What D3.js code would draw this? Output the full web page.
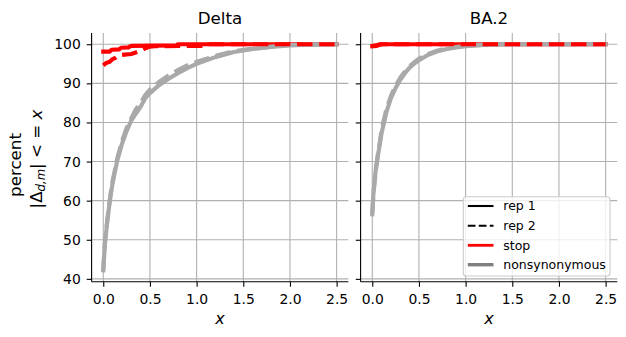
<!DOCTYPE html>
<html>
<head>
<meta charset="utf-8">
<script src="https://cdn.jsdelivr.net/npm/d3@7"></script>
<style>
  body { margin: 0; background: #fff; }
  svg { display: block; }
  text { font-family: "DejaVu Sans", sans-serif; }
</style>
</head>
<body>
<svg id="chart" width="626" height="337"></svg>
<script>
// ---------------- data ----------------
const panelTitles = ["Delta", "BA.2"];
const xTicks = [0, 0.5, 1.0, 1.5, 2.0, 2.5];
const yTicks = [40, 50, 60, 70, 80, 90, 100];

// nonsynonymous mutations: shared x grid
const nsX = [0, 0.01, 0.02, 0.04, 0.06, 0.08, 0.1, 0.15, 0.2, 0.25, 0.3, 0.35, 0.4, 0.45, 0.5, 0.6, 0.7, 0.8, 0.9, 1.0, 1.2, 1.4, 1.6, 1.8, 2.0, 2.2, 2.5];
const deltaNonsynRep1 = [42.2, 46, 49.5, 54, 58, 61.5, 64.5, 70.3, 74.5, 77.8, 80.5, 82.3, 84.0, 86.2, 87.5, 89.6, 91.2, 92.6, 93.9, 95.0, 96.7, 98.0, 98.8, 99.3, 99.7, 99.9, 100];
const deltaNonsynRep2 = [42.0, 46.5, 50, 54.5, 58.5, 62, 65, 70.8, 75.2, 78.6, 81.0, 83.4, 85.0, 87.0, 88.4, 90.4, 92.0, 93.4, 94.6, 95.5, 97.0, 98.2, 98.9, 99.4, 99.8, 99.9, 100];
const ba2NonsynRep1 = [56.5, 61, 64, 68.5, 71.5, 74.3, 77.3, 82.5, 86.2, 88.8, 90.9, 92.6, 94.0, 95.1, 95.9, 97.3, 98.2, 98.8, 99.2, 99.5, 99.8, 100, 100, 100, 100, 100, 100];
const ba2NonsynRep2 = [56.8, 60.5, 63.5, 68, 71.8, 74.8, 78.2, 83.3, 86.8, 89.4, 91.4, 93.0, 94.4, 95.4, 96.3, 97.5, 98.4, 98.9, 99.3, 99.6, 99.9, 99.95, 100, 100, 100, 100, 100];

// stop mutations
const deltaStopRep1X = [0, 0.07, 0.09, 0.17, 0.19, 0.27, 0.3, 0.78, 0.8, 1.0, 1.5, 2.0, 2.5];
const deltaStopRep1 = [98.1, 98.1, 98.6, 98.7, 99.1, 99.2, 99.6, 99.7, 100, 100, 100, 100, 100];
const deltaStopRep2X = [0, 0.03, 0.07, 0.1, 0.13, 0.17, 0.3, 0.34, 0.4, 0.45, 0.5, 0.55, 1.05, 1.1, 1.5, 2.0, 2.5];
const deltaStopRep2 = [94.6, 95.2, 95.5, 96.2, 96.5, 97.2, 97.5, 97.8, 98.3, 99.0, 99.4, 99.5, 99.6, 100, 100, 100, 100];
const ba2StopRep1X = [0, 0.05, 0.08, 0.1, 0.5, 1.0, 1.5, 2.0, 2.5];
const ba2StopRep1 = [99.5, 99.6, 99.9, 100, 100, 100, 100, 100, 100];
const ba2StopRep2X = [0, 0.04, 0.07, 0.1, 0.5, 1.0, 1.5, 2.0, 2.5];
const ba2StopRep2 = [99.6, 99.7, 99.9, 100, 100, 100, 100, 100, 100];

const legendLabels = ["rep 1", "rep 2", "stop", "nonsynonymous"];

// ---------------- layout ----------------
const svg = d3.select("#chart");
const plotTop = 32.9, plotBottom = 281.8;
const panelRanges = [[91.6, 348.3], [360.6, 617.3]];
const y = d3.scaleLinear().domain([39.25, 102.9]).range([plotBottom, plotTop]);

const RED = "#ff0000", GRAY = "#a9a9a9";
const LW = 4.17;
const DASH = `${(3.7 * LW).toFixed(2)},${(1.6 * LW).toFixed(2)}`;

const panelSeries = [
  [
    { x: deltaStopRep1X, y: deltaStopRep1, color: RED, dash: null },
    { x: nsX, y: deltaNonsynRep1, color: GRAY, dash: null },
    { x: nsX, y: deltaNonsynRep2, color: GRAY, dash: DASH },
    { x: deltaStopRep2X, y: deltaStopRep2, color: RED, dash: DASH }
  ],
  [
    { x: ba2StopRep1X, y: ba2StopRep1, color: RED, dash: null },
    { x: nsX, y: ba2NonsynRep1, color: GRAY, dash: null },
    { x: nsX, y: ba2NonsynRep2, color: GRAY, dash: DASH },
    { x: ba2StopRep2X, y: ba2StopRep2, color: RED, dash: DASH }
  ]
];

panelTitles.forEach((title, i) => {
  const [x0, x1] = panelRanges[i];
  const x = d3.scaleLinear().domain([-0.125, 2.625]).range([x0, x1]);
  const g = svg.append("g");

  // grid
  g.append("g").selectAll("line").data(xTicks).join("line")
    .attr("x1", d => x(d)).attr("x2", d => x(d))
    .attr("y1", plotTop).attr("y2", plotBottom)
    .attr("stroke", "#b0b0b0").attr("stroke-width", 1.1);
  g.append("g").selectAll("line").data(yTicks).join("line")
    .attr("x1", x0).attr("x2", x1)
    .attr("y1", d => y(d)).attr("y2", d => y(d))
    .attr("stroke", "#b0b0b0").attr("stroke-width", 1.1);

  // lines
  const clipId = "clip" + i;
  svg.append("clipPath").attr("id", clipId).append("rect")
    .attr("x", x0).attr("y", plotTop).attr("width", x1 - x0).attr("height", plotBottom - plotTop);
  const lg = g.append("g").attr("clip-path", `url(#${clipId})`);
  panelSeries[i].forEach(s => {
    const pts = s.x.map((xv, k) => [xv, s.y[k]]);
    const line = d3.line().x(d => x(d[0])).y(d => y(d[1]));
    lg.append("path")
      .attr("d", line(pts))
      .attr("fill", "none")
      .attr("stroke", s.color)
      .attr("stroke-width", LW)
      .attr("stroke-linejoin", "round")
      .attr("stroke-linecap", s.dash ? "butt" : "square")
      .attr("stroke-dasharray", s.dash);
  });

  // axes
  const xAxis = d3.axisBottom(x).tickValues(xTicks).tickFormat(d3.format(".1f"))
    .tickSizeInner(4.86).tickSizeOuter(0).tickPadding(7);
  const xa = g.append("g").attr("transform", `translate(0,${plotBottom})`).call(xAxis);
  xa.select(".domain").attr("stroke", "#000").attr("stroke-width", 1.1)
    .attr("d", `M${x0},0H${x1}`);
  xa.selectAll(".tick line").attr("stroke", "#000").attr("stroke-width", 1.1);
  xa.selectAll(".tick text").attr("font-size", "13.9px").attr("font-family", "DejaVu Sans").attr("fill", "#000");

  const yAxis = d3.axisLeft(y).tickValues(yTicks).tickFormat(i === 0 ? d3.format("d") : () => "")
    .tickSizeInner(4.86).tickSizeOuter(0).tickPadding(6);
  const ya = g.append("g").attr("transform", `translate(${x0},0)`).call(yAxis);
  ya.select(".domain").attr("stroke", "#000").attr("stroke-width", 1.1)
    .attr("d", `M0,${plotTop}V${plotBottom}`);
  ya.selectAll(".tick line").attr("stroke", "#000").attr("stroke-width", 1.1);
  ya.selectAll(".tick text").attr("font-size", "13.9px").attr("font-family", "DejaVu Sans").attr("fill", "#000");

  // title
  g.append("text").attr("x", (x0 + x1) / 2).attr("y", 24)
    .attr("text-anchor", "middle").attr("font-size", "16.7px").text(title);

  // x label
  g.append("text").attr("x", (x0 + x1) / 2).attr("y", 324)
    .attr("text-anchor", "middle").attr("font-size", "16px").attr("font-style", "italic").text("x");
});

// y label (two lines)
svg.append("text")
  .attr("transform", "translate(21,165) rotate(-90)")
  .attr("text-anchor", "middle").attr("font-size", "16.7px").text("percent");
const yl2 = svg.append("text")
  .attr("transform", "translate(41.5,159) rotate(-90)")
  .attr("text-anchor", "middle").attr("font-size", "16.7px");
yl2.append("tspan").text("|Δ");
yl2.append("tspan").attr("font-style", "italic").attr("font-size", "11.7px").attr("dy", "3").text("d,m");
yl2.append("tspan").attr("dy", "-3").text("| < = ");
yl2.append("tspan").attr("font-style", "italic").text("x");

// legend
const lgd = svg.append("g");
lgd.append("rect").attr("x", 463.3).attr("y", 196.7).attr("width", 146.7).attr("height", 79.3)
  .attr("rx", 3).attr("fill", "#fff").attr("fill-opacity", 0.8)
  .attr("stroke", "#cccccc").attr("stroke-width", 1.1);
const legendStyles = [
  { color: "#000", w: 2.08, dash: null },
  { color: "#000", w: 2.08, dash: "7.7,3.3" },
  { color: RED, w: 2.8, dash: null },
  { color: "#808080", w: 3.4, dash: null }
];
const legendY = [206, 225.8, 245.3, 264.7];
legendLabels.forEach((lab, k) => {
  const st = legendStyles[k];
  lgd.append("line").attr("x1", 467.8).attr("x2", 493.5)
    .attr("y1", legendY[k]).attr("y2", legendY[k])
    .attr("stroke", st.color).attr("stroke-width", st.w).attr("stroke-dasharray", st.dash);
  lgd.append("text").attr("x", 503.3).attr("y", legendY[k]).attr("dy", "0.35em")
    .attr("font-size", "12.5px").text(lab);
});
</script>
</body>
</html>
